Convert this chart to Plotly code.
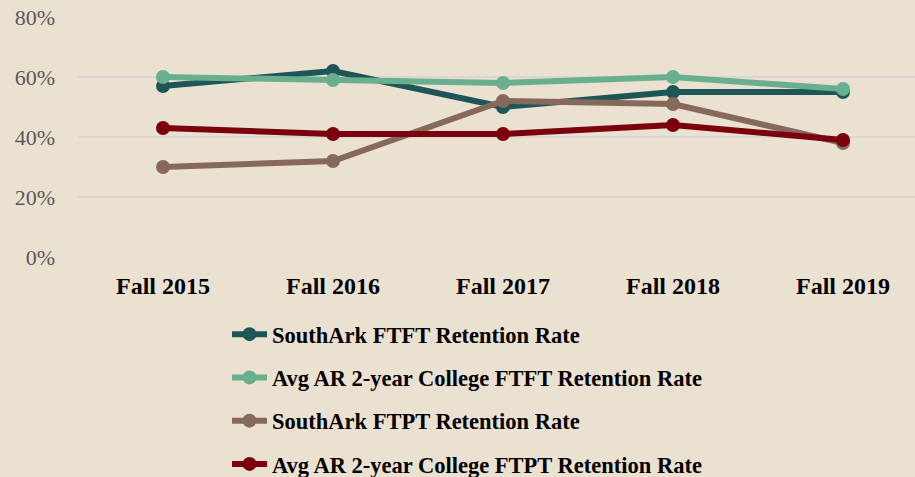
import plotly.graph_objects as go

# ----- Data -----
terms = ["Fall 2015", "Fall 2016", "Fall 2017", "Fall 2018", "Fall 2019"]

southark_ftft = [57, 62, 50, 55, 55]
avg_ar_ftft = [60, 59, 58, 60, 56]
southark_ftpt = [30, 32, 52, 51, 38]
avg_ar_ftpt = [43, 41, 41, 44, 39]

series_names = [
    "SouthArk FTFT Retention Rate",
    "Avg AR 2-year College FTFT Retention Rate",
    "SouthArk FTPT Retention Rate",
    "Avg AR 2-year College FTPT Retention Rate",
]
series_values = [southark_ftft, avg_ar_ftft, southark_ftpt, avg_ar_ftpt]
series_colors = ["#1E5557", "#68AE8F", "#87695C", "#7A000E"]

FONT = "Liberation Serif, Times New Roman, serif"

fig = go.Figure()

for i, (name, vals, col) in enumerate(zip(series_names, series_values, series_colors)):
    fig.add_trace(
        go.Scatter(
            x=list(range(len(terms))),
            y=vals,
            name=name,
            legendgroup=f"g{i}",
            mode="lines+markers",
            line=dict(color=col, width=6),
            marker=dict(color=col, size=14),
        )
    )

fig.update_layout(
    width=915,
    height=477,
    autosize=False,
    margin=dict(l=78, r=0, t=17, b=220),
    paper_bgcolor="#EBE1D1",
    plot_bgcolor="rgba(0,0,0,0)",
    font=dict(family=FONT),
    showlegend=True,
    legend=dict(
        orientation="v",
        xref="paper",
        yref="container",
        x=(227 - 78) / 837,
        xanchor="left",
        y=1 - 313 / 477,
        yanchor="top",
        itemwidth=35,
        bgcolor="rgba(0,0,0,0)",
        tracegroupgap=11,
        font=dict(family=FONT, size=22.5, color="#000000", weight="bold"),
    ),
)

fig.update_xaxes(
    tickmode="array",
    tickvals=list(range(len(terms))),
    ticktext=terms,
    range=[-0.5, 4.4235],
    showgrid=False,
    zeroline=False,
    showline=False,
    ticks="",
    ticklabelstandoff=12,
    tickfont=dict(family=FONT, size=24, color="#000000", weight="bold"),
)

fig.update_yaxes(
    range=[0, 80],
    tickvals=[0, 20, 40, 60, 80],
    ticktext=["0%", "20%", "40%", "60%", "80%"],
    showgrid=True,
    gridcolor="#D9D6D3",
    gridwidth=2,
    zeroline=False,
    showline=False,
    ticks="",
    ticklabelstandoff=22,
    tickfont=dict(family=FONT, size=22, color="#595959"),
)

fig.write_html(
    "out.html",
    config={"displayModeBar": False},
    post_script="document.body.style.margin='0';",
)
